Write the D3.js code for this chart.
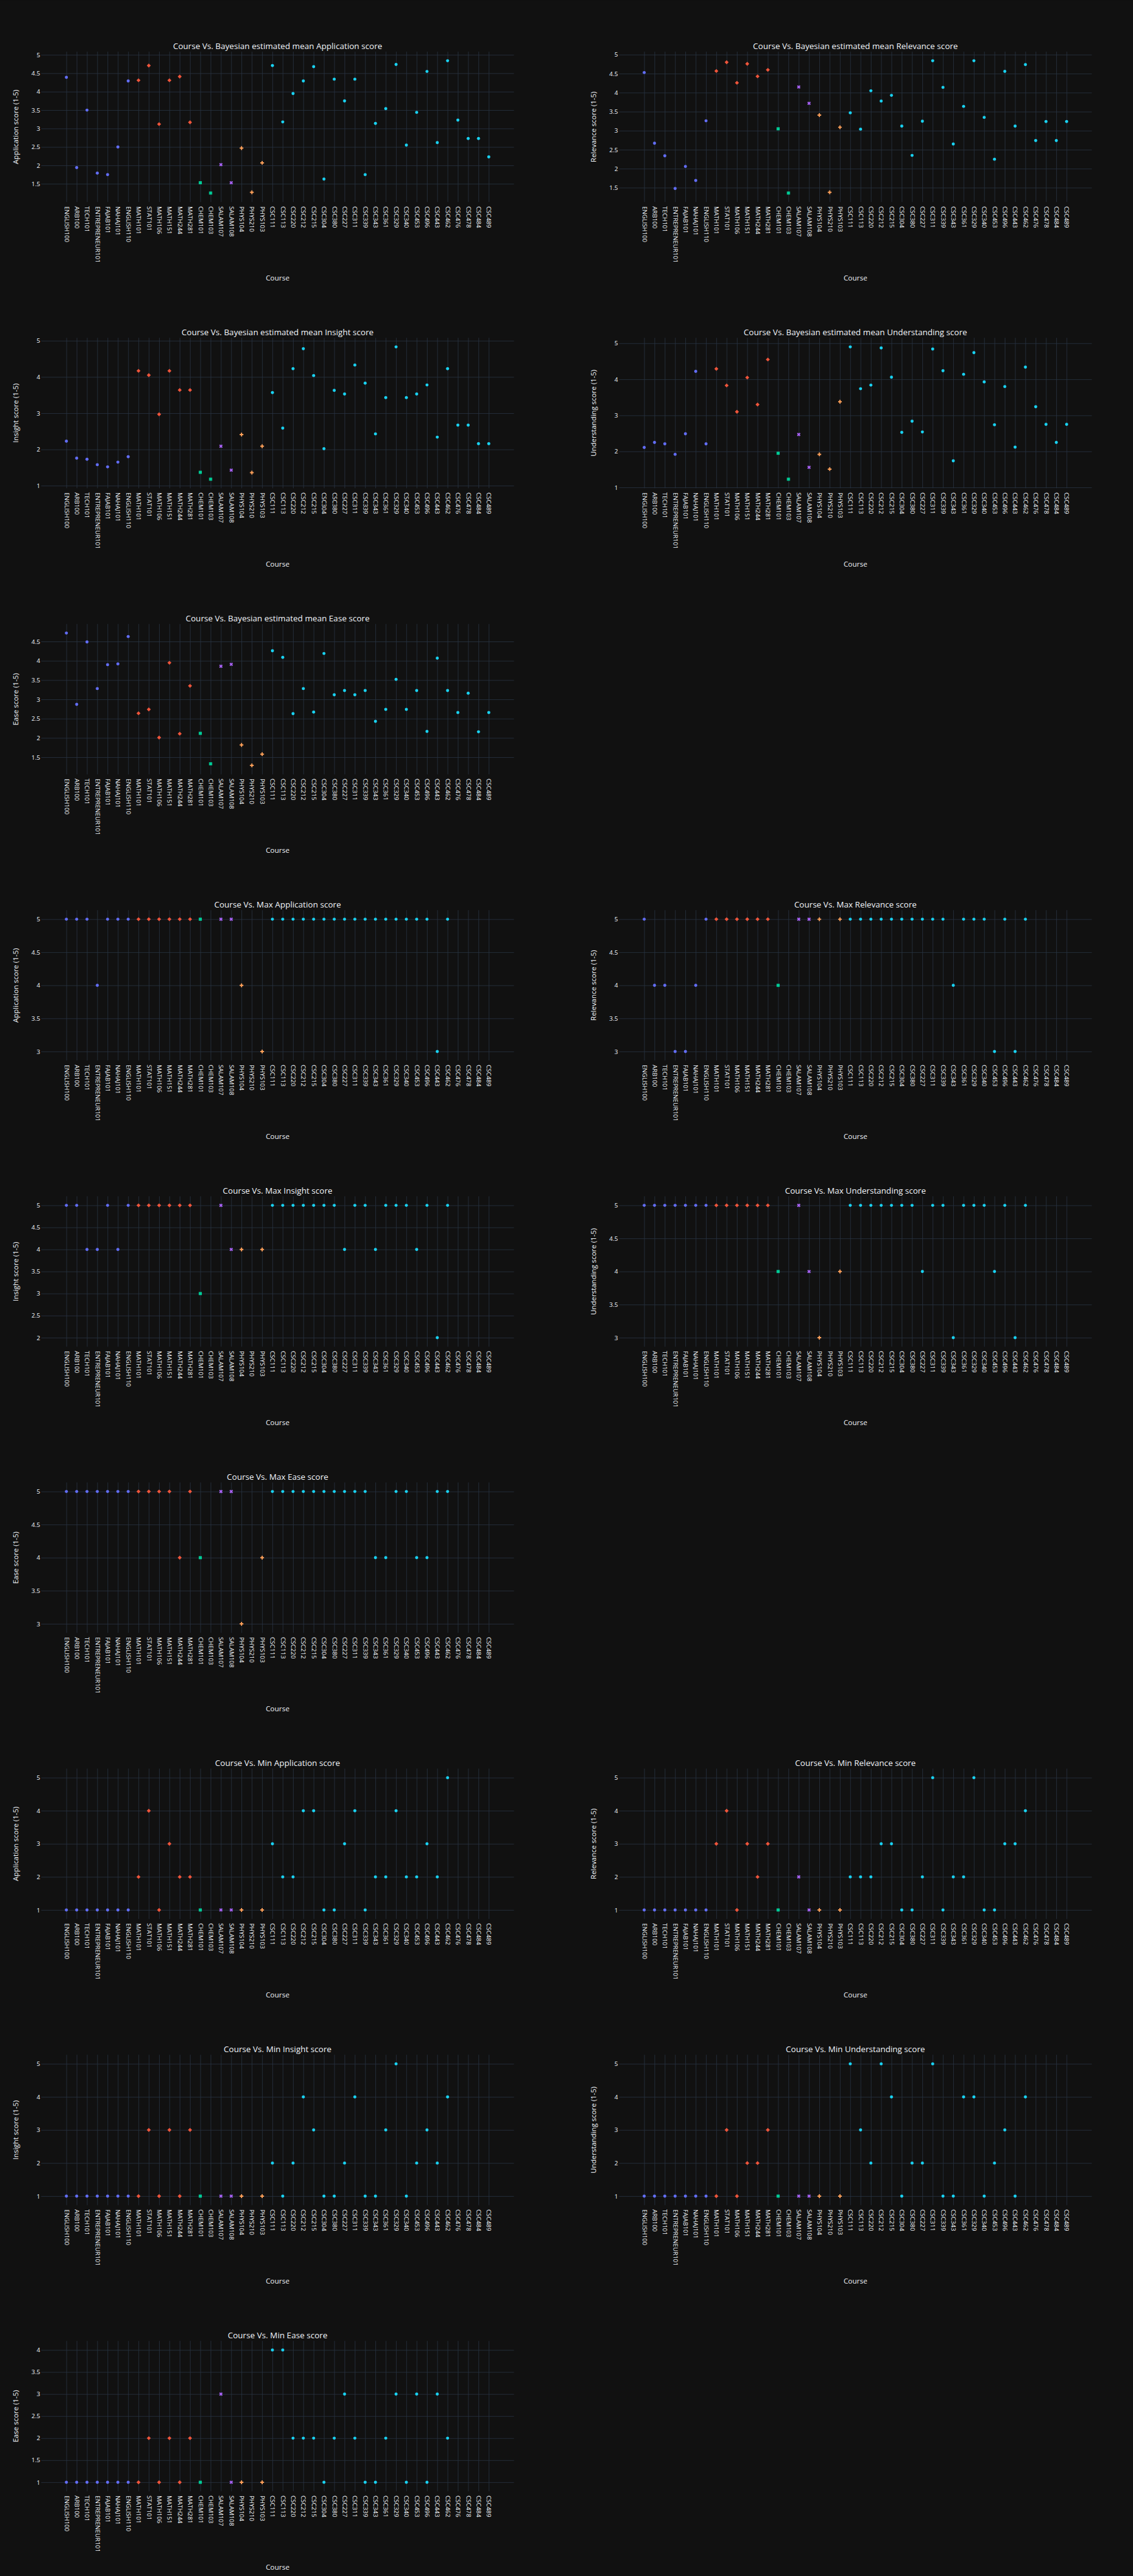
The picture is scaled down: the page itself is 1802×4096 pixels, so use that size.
<!DOCTYPE html>
<html>
<head>
<meta charset="utf-8">
<script src="https://cdn.jsdelivr.net/npm/d3@7"></script>
<style>
html,body{margin:0;padding:0;background:#111111;}
svg{display:block;}
</style>
</head>
<body>
<div id="chart"></div>
<script>
// ---------------- DATA ----------------
const courses = ["ENGLISH100","ARB100","TECH101","ENTREPRENEUR101","FAJAB101","NAHAJ101","ENGLISH110",
  "MATH101","STAT101","MATH106","MATH151","MATH244","MATH281","CHEM101","CHEM103","SALAM107","SALAM108",
  "PHYS104","PHYS210","PHYS103","CSC111","CSC113","CSC220","CSC212","CSC215","CSC304","CSC380","CSC227",
  "CSC311","CSC339","CSC343","CSC361","CSC329","CSC340","CSC453","CSC496","CSC443","CSC462","CSC476",
  "CSC478","CSC484","CSC489"];

const courseGroups = ["General","General","General","General","General","General","General",
  "Math","Math","Math","Math","Math","Math","Chem","Chem","Salam","Salam","Phys","Phys","Phys",
  "CSC","CSC","CSC","CSC","CSC","CSC","CSC","CSC","CSC","CSC","CSC","CSC","CSC","CSC","CSC","CSC",
  "CSC","CSC","CSC","CSC","CSC","CSC"];

const bayesApplication = [4.39,1.94,3.50,1.79,1.75,2.50,4.29, 4.31,4.71,3.12,4.31,4.41,3.17, 1.53,1.25, 2.02,1.53, 2.47,1.27,2.07,
  4.71,3.18,3.95,4.29,4.68,1.63,4.34,3.75,4.34,1.75,3.14,3.54,4.74,2.55,3.44,4.55,2.62,4.84,3.23,2.73,2.73,2.23];
const bayesRelevance = [4.53,2.67,2.34,1.48,2.06,1.69,3.26, 4.57,4.80,4.26,4.76,4.43,4.60, 3.05,1.36, 4.15,3.72, 3.41,1.38,3.09,
  3.47,3.04,4.05,3.78,3.93,3.12,2.35,3.25,4.84,4.14,2.65,3.64,4.84,3.35,2.25,4.56,3.12,4.74,2.74,3.24,2.74,3.24];
const bayesInsight = [2.23,1.76,1.73,1.58,1.52,1.65,1.80, 4.17,4.05,2.97,4.17,3.64,3.64, 1.37,1.18, 2.09,1.43, 2.41,1.36,2.09,
  3.57,2.59,4.23,4.78,4.04,2.02,3.63,3.53,4.33,3.83,2.43,3.43,4.83,3.43,3.53,3.78,2.34,4.23,2.67,2.67,2.16,2.16];
const bayesUnderstanding = [2.11,2.25,2.21,1.92,2.49,4.22,2.21, 4.29,3.83,3.10,4.05,3.30,4.55, 1.95,1.23, 2.47,1.56, 1.92,1.51,3.38,
  4.90,3.74,3.84,4.87,4.06,2.53,2.84,2.54,4.84,4.24,1.74,4.14,4.74,3.93,2.74,3.80,2.12,4.34,3.24,2.75,2.25,2.75];
const bayesEase = [4.72,2.87,4.49,3.28,3.90,3.92,4.63, 2.64,2.74,2.01,3.95,2.11,3.35, 2.12,1.33, 3.86,3.91, 1.82,1.29,1.58,
  4.26,4.09,2.63,3.28,2.67,4.19,3.12,3.23,3.12,3.23,2.43,2.74,3.52,2.74,3.23,2.17,4.07,3.23,2.66,3.16,2.16,2.66];

const maxApplication = [5,5,5,4,5,5,5, 5,5,5,5,5,5, 5,null, 5,5, 4,null,3,
  5,5,5,5,5,5,5,5,5,5,5,5,5,5,5,5,3,5,null,null,null,null];
const maxRelevance = [5,4,4,3,3,4,5, 5,5,5,5,5,5, 4,null, 5,5, 5,null,5,
  5,5,5,5,5,5,5,5,5,5,4,5,5,5,3,5,3,5,null,null,null,null];
const maxInsight = [5,5,4,4,5,4,5, 5,5,5,5,5,5, 3,null, 5,4, 4,null,4,
  5,5,5,5,5,5,5,4,5,5,4,5,5,5,4,5,2,5,null,null,null,null];
const maxUnderstanding = [5,5,5,5,5,5,5, 5,5,5,5,5,5, 4,null, 5,4, 3,null,4,
  5,5,5,5,5,5,5,4,5,5,3,5,5,5,4,5,3,5,null,null,null,null];
const maxEase = [5,5,5,5,5,5,5, 5,5,5,5,4,5, 4,null, 5,5, 3,null,4,
  5,5,5,5,5,5,5,5,5,5,4,4,5,5,4,4,5,5,null,null,null,null];

const minApplication = [1,1,1,1,1,1,1, 2,4,1,3,2,2, 1,null, 1,1, 1,null,1,
  3,2,2,4,4,1,1,3,4,1,2,2,4,2,2,3,2,5,null,null,null,null];
const minRelevance = [1,1,1,1,1,1,1, 3,4,1,3,2,3, 1,null, 2,1, 1,null,1,
  2,2,2,3,3,1,1,2,5,1,2,2,5,1,1,3,3,4,null,null,null,null];
const minInsight = [1,1,1,1,1,1,1, 1,3,1,3,1,3, 1,null, 1,1, 1,null,1,
  2,1,2,4,3,1,1,2,4,1,1,3,5,1,2,3,2,4,null,null,null,null];
const minUnderstanding = [1,1,1,1,1,1,1, 1,3,1,2,2,3, 1,null, 1,1, 1,null,1,
  5,3,2,5,4,1,2,2,5,1,1,4,4,1,2,3,1,4,null,null,null,null];
const minEase = [1,1,1,1,1,1,1, 1,2,1,2,1,2, 1,null, 3,1, 1,null,1,
  4,4,2,2,2,1,2,3,2,1,1,2,3,1,3,1,3,2,null,null,null,null];

const yTicksHalfStep = [1,1.5,2,2.5,3,3.5,4,4.5,5];
const yTicksUnitStep = [1,2,3,4,5];

const xAxisTitle = "Course";

// ---------------- LAYOUT / STYLE ----------------
const W = 2200, H = 5000;
const plotW = 918, plotH = 292;
const colX = [80, 1202];
const rowTop = 100, rowPitch = 555.5;
const fontFam = "'Open Sans', verdana, arial, sans-serif";
const textColor = "#f2f5fa";
const gridColor = "#283442";
const groupStyle = {
  General: {color: "#636efa", symbol: "circle"},
  Math:    {color: "#EF553B", symbol: "diamond"},
  Chem:    {color: "#00cc96", symbol: "square"},
  Salam:   {color: "#ab63fa", symbol: "x"},
  Phys:    {color: "#FFA15A", symbol: "cross"},
  CSC:     {color: "#19d3f3", symbol: "circle"}
};

const panels = [
  {row:0, col:0, title:"Course Vs. Bayesian estimated mean Application score", yTitle:"Application score (1-5)", values:bayesApplication, ticks:yTicksHalfStep},
  {row:0, col:1, title:"Course Vs. Bayesian estimated mean Relevance score", yTitle:"Relevance score (1-5)", values:bayesRelevance, ticks:yTicksHalfStep},
  {row:1, col:0, title:"Course Vs. Bayesian estimated mean Insight score", yTitle:"Insight score (1-5)", values:bayesInsight, ticks:yTicksUnitStep},
  {row:1, col:1, title:"Course Vs. Bayesian estimated mean Understanding score", yTitle:"Understanding score (1-5)", values:bayesUnderstanding, ticks:yTicksUnitStep},
  {row:2, col:0, title:"Course Vs. Bayesian estimated mean Ease score", yTitle:"Ease score (1-5)", values:bayesEase, ticks:yTicksHalfStep},
  {row:3, col:0, title:"Course Vs. Max Application score", yTitle:"Application score (1-5)", values:maxApplication, ticks:yTicksHalfStep},
  {row:3, col:1, title:"Course Vs. Max Relevance score", yTitle:"Relevance score (1-5)", values:maxRelevance, ticks:yTicksHalfStep},
  {row:4, col:0, title:"Course Vs. Max Insight score", yTitle:"Insight score (1-5)", values:maxInsight, ticks:yTicksHalfStep},
  {row:4, col:1, title:"Course Vs. Max Understanding score", yTitle:"Understanding score (1-5)", values:maxUnderstanding, ticks:yTicksHalfStep},
  {row:5, col:0, title:"Course Vs. Max Ease score", yTitle:"Ease score (1-5)", values:maxEase, ticks:yTicksHalfStep},
  {row:6, col:0, title:"Course Vs. Min Application score", yTitle:"Application score (1-5)", values:minApplication, ticks:yTicksUnitStep},
  {row:6, col:1, title:"Course Vs. Min Relevance score", yTitle:"Relevance score (1-5)", values:minRelevance, ticks:yTicksUnitStep},
  {row:7, col:0, title:"Course Vs. Min Insight score", yTitle:"Insight score (1-5)", values:minInsight, ticks:yTicksUnitStep},
  {row:7, col:1, title:"Course Vs. Min Understanding score", yTitle:"Understanding score (1-5)", values:minUnderstanding, ticks:yTicksUnitStep},
  {row:8, col:0, title:"Course Vs. Min Ease score", yTitle:"Ease score (1-5)", values:minEase, ticks:yTicksHalfStep}
];

// plotly-like marker symbols
function symbolPath(type, r) {
  if (type === "circle") {
    return `M${r},0A${r},${r} 0 1,1 0,-${r}A${r},${r} 0 0,1 ${r},0Z`;
  }
  if (type === "diamond") {
    const rd = r * 1.3;
    return `M${rd},0L0,${rd}L-${rd},0L0,-${rd}Z`;
  }
  if (type === "square") {
    const rs = r;
    return `M${rs},${rs}H-${rs}V-${rs}H${rs}Z`;
  }
  if (type === "cross") {
    const rc = r * 0.4, rc2 = r * 1.2;
    return `M${rc2},${rc}H${rc}V${rc2}H-${rc}V${rc}H-${rc2}V-${rc}H-${rc}V-${rc2}H${rc}V-${rc}H${rc2}Z`;
  }
  if (type === "x") {
    const rx = r * 0.8 / Math.SQRT2;
    const ne = `l${rx},${rx}`, se = `l${rx},-${rx}`, sw = `l-${rx},-${rx}`, nw = `l-${rx},${rx}`;
    return `M0,${rx}${ne}${se}${sw}${se}${sw}${nw}${sw}${nw}${ne}${nw}${ne}Z`;
  }
  return "";
}

// ---------------- DRAW ----------------
const svg = d3.select("#chart").append("svg")
  .attr("width", 1802).attr("height", 4096)
  .attr("viewBox", `0 0 ${W} ${H}`)
  .style("font-family", fontFam);

svg.append("rect").attr("width", W).attr("height", H).attr("fill", "#111111");

const markerR = 3;

panels.forEach(p => {
  const x0 = colX[p.col];
  const y0 = rowTop + p.row * rowPitch;
  const g = svg.append("g").attr("transform", `translate(${x0},${y0})`);

  // x scale: categorical with plotly-like autorange padding
  const xpad = 0.05 * plotW + 3;
  const x = d3.scalePoint().domain(courses).range([xpad, plotW - xpad]);

  // y scale: padded autorange
  const vals = p.values.filter(v => v != null);
  const [mn, mx] = d3.extent(vals);
  const ypad = 0.05 * plotH + 3;
  const u = (mx - mn) / (plotH - 2 * ypad);
  const y = d3.scaleLinear().domain([mn - ypad * u, mx + ypad * u]).range([plotH, 0]);
  const dom = y.domain();
  const ticks = p.ticks.filter(t => t >= dom[0] && t <= dom[1]);

  // vertical grid + x labels
  const xAxis = g.append("g").attr("transform", `translate(0,${plotH})`)
    .call(d3.axisBottom(x).tickSize(-plotH).tickSizeOuter(0));
  xAxis.select(".domain").remove();
  xAxis.selectAll(".tick line").attr("stroke", gridColor).attr("stroke-width", 1);
  xAxis.selectAll(".tick text")
    .attr("fill", textColor)
    .attr("font-size", 12)
    .attr("font-family", fontFam)
    .attr("transform", "rotate(90)")
    .attr("x", 8).attr("y", 0).attr("dy", "0.35em")
    .style("text-anchor", "start");

  // horizontal grid + y labels
  const yAxis = g.append("g")
    .call(d3.axisLeft(y).tickValues(ticks).tickSize(-plotW).tickSizeOuter(0).tickPadding(2).tickFormat(d3.format("~g")));
  yAxis.select(".domain").remove();
  yAxis.selectAll(".tick line").attr("stroke", gridColor).attr("stroke-width", 1);
  yAxis.selectAll(".tick text")
    .attr("fill", textColor)
    .attr("font-size", 12)
    .attr("font-family", fontFam);

  // markers
  const pts = courses.map((c, i) => ({course: c, group: courseGroups[i], v: p.values[i]}))
    .filter(d => d.v != null);
  g.append("g").selectAll("path").data(pts).join("path")
    .attr("transform", d => `translate(${x(d.course)},${y(d.v)})`)
    .attr("d", d => symbolPath(groupStyle[d.group].symbol, markerR))
    .attr("fill", d => groupStyle[d.group].color);

  // title
  g.append("text")
    .attr("x", plotW / 2).attr("y", -5)
    .attr("text-anchor", "middle")
    .attr("fill", textColor)
    .attr("font-size", 16)
    .text(p.title);

  // y axis title
  g.append("text")
    .attr("transform", `translate(-49,${plotH / 2}) rotate(-90)`)
    .attr("text-anchor", "middle")
    .attr("dy", "0.35em")
    .attr("fill", textColor)
    .attr("font-size", 14)
    .text(p.yTitle);

  // x axis title
  g.append("text")
    .attr("x", plotW / 2).attr("y", plotH + 147)
    .attr("dy", "0.35em")
    .attr("text-anchor", "middle")
    .attr("fill", textColor)
    .attr("font-size", 14)
    .text(xAxisTitle);
});
</script>
</body>
</html>
